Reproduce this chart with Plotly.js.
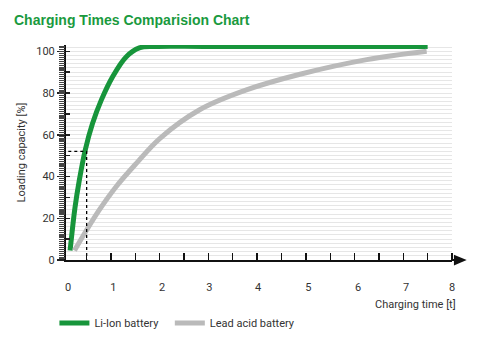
<!DOCTYPE html>
<html><head><meta charset="utf-8">
<script src="https://cdn.plot.ly/plotly-3.0.1.min.js"></script>
<style>html,body{margin:0;padding:0;background:#fff}#chart{width:478px;height:338px}</style>
</head><body><div id="chart"></div>
<script>
// Data
const liIonTime = [0.16, 0.26, 0.35, 0.47, 0.62, 0.80, 1.03, 1.31, 1.58, 1.9, 3.0, 7.5];
const liIonCap  = [4.5, 25, 38.3, 52.6, 65.4, 76.6, 87.7, 97.3, 101.6, 102.3, 102.3, 102.3];
const leadTime  = [0.25, 0.49, 0.76, 1.10, 1.52, 2.0, 2.82, 3.78, 4.88, 6.25, 7.48];
const leadCap   = [4.5, 14, 24, 35, 46.3, 58.2, 72, 81.5, 89, 96, 100];
const markTime  = [0, 0.5, 0.5];
const markCap   = [52, 52, 0];
const xLabelPos = [0.12, 1.05, 2.05, 3.02, 4.02, 5.05, 6.07, 7.06, 8.0];
const xTickText = ['0','1','2','3','4','5','6','7','8'];
const yTickVals = [0,20,40,60,80,100];
const seriesNames = ['Li-Ion battery', 'Lead acid battery'];

const FONT = '"Liberation Sans Narrow", "Roboto", sans-serif';
const traces = [
  {x: liIonTime, y: liIonCap, name: seriesNames[0], mode: 'lines', legend: 'legend',
   line: {color: '#17953b', width: 5, shape: 'spline', smoothing: 1}},
  {x: leadTime, y: leadCap, name: seriesNames[1], mode: 'lines', legend: 'legend2',
   line: {color: '#bababa', width: 5, shape: 'spline', smoothing: 1}},
  {x: markTime, y: markCap, mode: 'lines', yaxis: 'y2', showlegend: false, hoverinfo: 'skip',
   line: {color: '#000', width: 1.3, dash: 'dot'}}
];
const legendBase = {orientation: 'h', xanchor: 'left', yref: 'container', y: 1 - 323/338, yanchor: 'middle',
                    font: {family: FONT, size: 11, color: '#333'}, itemwidth: 30, bgcolor: 'rgba(0,0,0,0)'};
const layout = {
  width: 478, height: 338,
  margin: {l: 66, r: 26, t: 45, b: 78, autoexpand: false},
  paper_bgcolor: '#fff', plot_bgcolor: '#fff',
  font: {family: FONT, size: 11, color: '#333'},
  title: {text: '<b>Charging Times Comparision Chart</b>', x: 14/478, xanchor: 'left',
          y: 1 - 20/338, yanchor: 'middle',
          font: {family: 'Liberation Sans, Arial, sans-serif', size: 14, color: '#1a9a3e'}},
  xaxis: {range: [0.076, 8.0], tickvals: xLabelPos, ticktext: xTickText, automargin: false,
          ticks: '',
          minor: {tick0: 0, dtick: 0.5, ticks: 'inside', ticklen: 7, tickwidth: 1.4, tickcolor: '#111'},
          showgrid: false, zeroline: false, showline: true, linecolor: '#111', linewidth: 2,
          ticklabelstandoff: 16, tickfont: {family: FONT, size: 11, color: '#333'}},
  yaxis: {range: [0, 103], tickvals: yTickVals, ticks: 'outside', ticklen: 7, tickwidth: 1.5,
          tickcolor: '#222', showgrid: true, gridcolor: '#e6e6e6', gridwidth: 1, automargin: false,
          minor: {dtick: 2, ticks: '', showgrid: true, gridcolor: '#e6e6e6', gridwidth: 1},
          zeroline: false, showline: true, linecolor: '#111', linewidth: 2,
          tickfont: {family: FONT, size: 11, color: '#333'},
          title: {text: 'Loading capacity [%]', standoff: 8, font: {family: FONT, size: 11, color: '#333'}}},
  yaxis2: {overlaying: 'y', range: [0, 103], side: 'left', showticklabels: false, showgrid: false,
           zeroline: false, showline: false, automargin: false,
           dtick: 10, ticks: 'inside', ticklen: 4, tickwidth: 1.5, tickcolor: '#222',
           minor: {dtick: 1, ticks: 'outside', ticklen: 6, tickwidth: 1.2, tickcolor: '#444'}},
  legend: Object.assign({}, legendBase, {x: -0.03}),
  legend2: Object.assign({}, legendBase, {x: 0.269}),
  annotations: [
    {text: 'Charging time [t]', xref: 'paper', yref: 'paper', x: 1.016, y: -0.205,
     xanchor: 'right', yanchor: 'middle', showarrow: false, font: {family: FONT, size: 11, color: '#333'}}
  ],
  shapes: [
    {type: 'line', xref: 'paper', yref: 'paper', x0: 1, x1: 1.02, y0: 0, y1: 0,
     line: {color: '#111', width: 2}},
    {type: 'path', xref: 'paper', yref: 'paper',
     path: 'M 1.005 0.025 L 1.038 0 L 1.005 -0.025 Z', fillcolor: '#111', line: {width: 0}}
  ]
};
Plotly.newPlot('chart', traces, layout, {displayModeBar: false, staticPlot: true});
</script></body></html>
